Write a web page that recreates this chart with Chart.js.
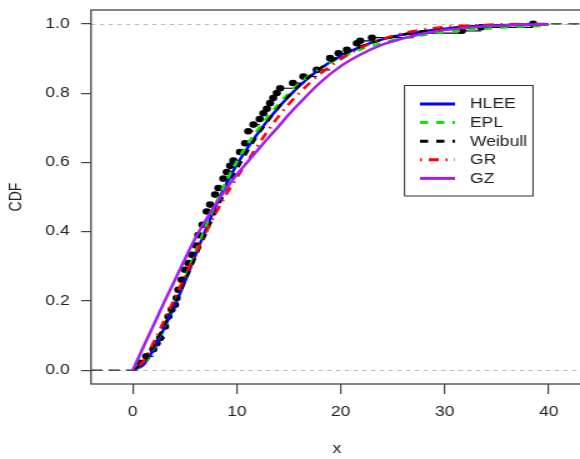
<!DOCTYPE html>
<html>
<head>
<meta charset="utf-8">
<script src="https://cdn.jsdelivr.net/npm/chart.js@4"></script>
<style>
html,body{margin:0;padding:0;background:#fff;overflow:hidden;}
#wrap{width:474px;height:459px;transform:scaleX(1.25);transform-origin:0 0;}
</style>
</head>
<body>
<div id="wrap"><canvas id="cdf" width="474" height="459"></canvas></div>
<script>
// axis ranges and ticks
const xMin = -4.02, xMax = 43.25;
const yMin = -0.04, yMax = 1.04;
const xTicks = [0, 10, 20, 30, 40];
const yTicks = [0, 0.2, 0.4, 0.6, 0.8, 1.0];
const refLevels = [0, 1];

// empirical CDF (observations and their cumulative proportions)
const ecdfX = [0.69, 1.3, 1.97, 2.3, 2.62, 3.1, 3.42, 3.74, 4.06, 4.22, 4.38, 4.7, 5.02, 5.34, 5.67,
  6.1, 6.3, 6.7, 7.11, 7.43, 7.91, 8.23, 8.71, 9.04, 9.36, 9.67, 10.3, 10.8, 11.1, 11.6, 12.2,
  12.56, 12.89, 13.2, 13.5, 13.85, 14.17, 15.4, 16.4, 17.7, 18.98, 19.78, 20.59, 21.55, 21.87,
  23.0, 27.0, 31.65, 33.5, 38.5];
const ecdfY = [0.021, 0.04, 0.06, 0.078, 0.093, 0.126, 0.155, 0.175, 0.189, 0.208, 0.232, 0.261, 0.29, 0.309, 0.333,
  0.36, 0.39, 0.42, 0.458, 0.478, 0.507, 0.526, 0.553, 0.572, 0.59, 0.605, 0.63, 0.655, 0.69, 0.709, 0.725,
  0.742, 0.755, 0.771, 0.786, 0.8, 0.814, 0.829, 0.848, 0.867, 0.901, 0.915, 0.925, 0.944, 0.951,
  0.96, 0.973, 0.98, 0.99, 1.0];

// fitted CDFs on a common x grid
const gridX = [0, 1, 2, 3, 4, 5, 6, 7, 8, 9, 10, 11, 12, 13, 14, 15, 16, 18, 20, 22, 24, 26, 28, 30, 33, 36, 40];
const hleeY = [0, 0.015, 0.06, 0.12, 0.185, 0.255, 0.33, 0.405, 0.475, 0.538, 0.593, 0.64, 0.683, 0.722, 0.758, 0.79, 0.82, 0.87, 0.907, 0.935, 0.955, 0.969, 0.979, 0.986, 0.993, 0.997, 0.999];
const eplY = [0, 0.018, 0.065, 0.125, 0.192, 0.264, 0.338, 0.412, 0.482, 0.546, 0.602, 0.651, 0.694, 0.733, 0.768, 0.8, 0.828, 0.871, 0.903, 0.927, 0.945, 0.958, 0.968, 0.976, 0.984, 0.99, 0.995];
const weibullY = [0, 0.022, 0.068, 0.127, 0.19, 0.256, 0.324, 0.393, 0.46, 0.523, 0.58, 0.631, 0.678, 0.72, 0.758, 0.792, 0.822, 0.871, 0.908, 0.935, 0.955, 0.969, 0.979, 0.986, 0.992, 0.996, 0.999];
const grY = [0, 0.025, 0.08, 0.142, 0.205, 0.27, 0.333, 0.395, 0.455, 0.508, 0.555, 0.602, 0.648, 0.692, 0.732, 0.768, 0.8, 0.855, 0.898, 0.932, 0.956, 0.973, 0.984, 0.991, 0.996, 0.999, 1.0];
const gzY = [0, 0.066, 0.13, 0.195, 0.257, 0.32, 0.38, 0.432, 0.48, 0.525, 0.565, 0.6, 0.635, 0.67, 0.703, 0.738, 0.77, 0.83, 0.878, 0.913, 0.94, 0.958, 0.972, 0.982, 0.991, 0.996, 0.999];

const fits = [
  {label: 'HLEE', ys: hleeY, color: '#0000ff', dash: []},
  {label: 'EPL', ys: eplY, color: '#00ee00', dash: [6.5, 6.5]},
  {label: 'Weibull', ys: weibullY, color: '#000000', dash: [6.5, 6.5]},
  {label: 'GR', ys: grY, color: '#ff0000', dash: [1.5, 5.5, 8, 5.5]},
  {label: 'GZ', ys: gzY, color: '#a020f0', dash: []}
];

Chart.defaults.font.family = '"Liberation Sans", Arial, Helvetica, sans-serif';
Chart.defaults.font.size = 14;
Chart.defaults.color = '#222';

// horizontal pieces of the step function
let steps = [];
ecdfX.forEach((x, i) => {
  let next = i + 1 < ecdfX.length ? ecdfX[i + 1] : x;
  steps.push({x, y: ecdfY[i]}, {x: next, y: ecdfY[i]}, {x: next, y: null});
});
let last = ecdfX.length - 1;
let tails = [
  {x: xMin, y: 0}, {x: ecdfX[0], y: 0}, {x: ecdfX[0], y: null},
  {x: ecdfX[last], y: ecdfY[last]}, {x: xMax, y: ecdfY[last]}
];

let datasets = fits.map((f, i) => ({
  label: f.label,
  data: gridX.map((x, j) => ({x, y: f.ys[j]})),
  borderColor: f.color,
  borderDash: f.dash,
  borderWidth: 2.5,
  cubicInterpolationMode: 'monotone',
  pointRadius: 0,
  fill: false,
  order: 5 - i,
  inLegend: true
}));
datasets.push({
  label: 'ecdf', data: steps, borderColor: '#000', borderWidth: 1.2,
  pointRadius: 0, spanGaps: false, order: 7
});
datasets.push({
  label: 'ecdf points', data: ecdfX.map((x, i) => ({x, y: ecdfY[i]})),
  showLine: false, pointRadius: 3.3, pointBackgroundColor: '#000',
  pointBorderWidth: 0, order: 6
});
datasets.push({
  label: 'tails', data: tails, borderColor: '#222', borderWidth: 1.2,
  borderDash: [9, 5], pointRadius: 0, spanGaps: false, order: 8
});

const legendBox = {left: 323.6, top: 85.5, width: 102.8, height: 110.5,
  line0: 336, line1: 364, textX: 376, firstY: 104, gap: 18.6};

const frame = {
  id: 'frame',
  beforeDatasetsDraw(chart) {
    let {ctx, chartArea: a, scales: {y}} = chart;
    ctx.save();
    ctx.strokeStyle = '#bbb';
    ctx.lineWidth = 1;
    ctx.setLineDash([3.5, 3.5]);
    refLevels.forEach(v => {
      let py = Math.round(y.getPixelForValue(v)) + 0.5;
      ctx.beginPath(); ctx.moveTo(a.left, py); ctx.lineTo(a.right, py); ctx.stroke();
    });
    ctx.restore();
  },
  afterDraw(chart) {
    let {ctx, chartArea: a} = chart;
    ctx.save();
    ctx.strokeStyle = '#444';
    ctx.lineWidth = 1.3;
    ctx.strokeRect(a.left, a.top, a.right - a.left, a.bottom - a.top);

    // legend
    let L = legendBox;
    ctx.fillStyle = '#fff';
    ctx.fillRect(L.left, L.top, L.width, L.height);
    ctx.strokeStyle = '#333';
    ctx.lineWidth = 1;
    ctx.strokeRect(L.left, L.top, L.width, L.height);
    ctx.font = '14px "Liberation Sans", Arial, sans-serif';
    ctx.textBaseline = 'middle';
    chart.data.datasets.filter(d => d.inLegend).forEach((d, i) => {
      let yy = L.firstY + i * L.gap;
      ctx.strokeStyle = d.borderColor;
      ctx.lineWidth = 3;
      ctx.setLineDash(d.borderDash);
      ctx.beginPath(); ctx.moveTo(L.line0, yy); ctx.lineTo(L.line1, yy); ctx.stroke();
      ctx.setLineDash([]);
      ctx.fillStyle = '#222';
      ctx.fillText(d.label, L.textX, yy + 0.5);
    });
    ctx.restore();
  }
};

new Chart(document.getElementById('cdf'), {
  type: 'line',
  data: {datasets},
  plugins: [frame],
  options: {
    responsive: false,
    animation: false,
    devicePixelRatio: 1,
    layout: {padding: {top: 10, right: 8, bottom: 0, left: 0}},
    plugins: {legend: {display: false}, tooltip: {enabled: false}},
    scales: {
      x: {
        type: 'linear', min: xMin, max: xMax,
        afterBuildTicks: s => { s.ticks = xTicks.map(v => ({value: v})); },
        afterFit: s => { s.height = 75; s.paddingLeft = 0; s.paddingRight = 0; },
        grid: {drawOnChartArea: false, drawTicks: true, tickLength: 10, color: '#444', lineWidth: 1.2},
        border: {display: false},
        ticks: {padding: 10, maxRotation: 0, callback: v => String(v)},
        title: {display: true, text: 'x', padding: {top: 0, bottom: 1}}
      },
      y: {
        type: 'linear', min: yMin, max: yMax,
        afterBuildTicks: s => { s.ticks = yTicks.map(v => ({value: v})); },
        afterFit: s => { s.width = 72.8; s.paddingTop = 0; s.paddingBottom = 0; },
        grid: {drawOnChartArea: false, drawTicks: true, tickLength: 8, color: '#444', lineWidth: 1.2},
        border: {display: false},
        ticks: {padding: 9, callback: v => v.toFixed(1)},
        title: {display: true, text: 'CDF', padding: {top: 5, bottom: 0}}
      }
    }
  }
});
</script>
</body>
</html>
